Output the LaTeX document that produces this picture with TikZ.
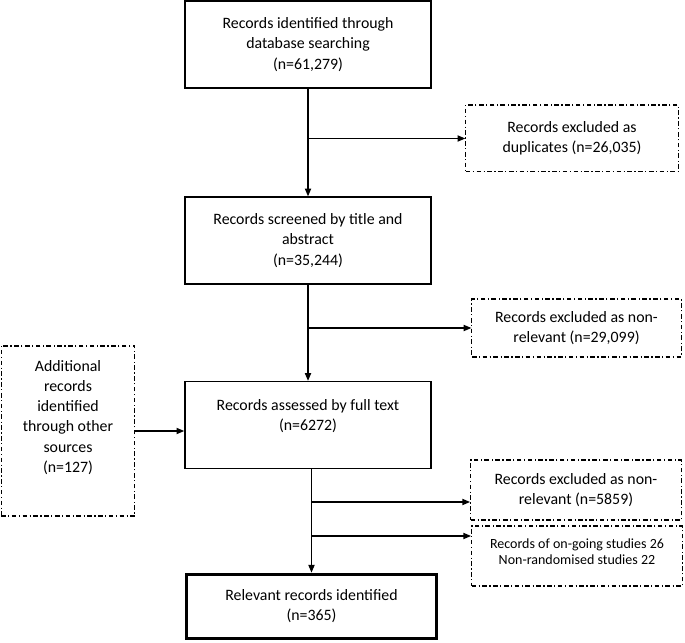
\documentclass[tikz,border=0pt]{standalone}
\usepackage{fontspec}
\setmainfont{Carlito}
\usetikzlibrary{arrows.meta,positioning,calc}

\begin{document}
\begin{tikzpicture}[
  x=0.65pt,y=-0.65pt,
  font=\fontsize{10.3}{13.1}\selectfont,
  >={Triangle[length=5pt,width=4pt]},
  stage/.style={draw,line width=0.9pt,align=center,minimum width=160pt,minimum height=56.5pt,inner sep=2pt},
  final/.style={stage,line width=2pt,minimum width=163pt,minimum height=42pt},
  side/.style={draw,line width=0.7pt,dash pattern=on 3pt off 1.6pt on 0.8pt off 1.6pt,align=center,minimum width=137pt,minimum height=39pt,inner sep=2pt},
  flow/.style={->,line width=0.8pt}
]
\useasboundingbox (0,0) rectangle (685,643);

% main path
\node[stage] (ident) at (308,44.5) {Records identified through\\database searching\\(n=61,279)};
\node[stage] (screen) at (308,240.5) {Records screened by title and\\abstract\\(n=35,244)};
\node[stage] (full) at (308,425) {Records assessed by full text\\(n=6272)\\\mbox{}};
\node[final] (relev) at (311.5,606.5) {Relevant records identified\\(n=365)};

% exclusions and other sources
\node[side,minimum width=138pt,minimum height=43.5pt] (dupl) at (572,138.5) {Records excluded as\\duplicates (n=26,035)};
\node[side,minimum width=136pt,minimum height=37.7pt] (nonrel) at (576.5,328) {Records excluded as non-\\relevant (n=29,099)};
\node[side,minimum width=87pt,minimum height=110.5pt] (other) at (68,431) {Additional\\records\\identified\\through other\\sources\\(n=127)\\[6pt]\mbox{}};
\node[side] (nonrelft) at (576,490) {Records excluded as non-\\relevant (n=5859)};
\node[side,font=\fontsize{9.1}{10.6}\selectfont] (ongoing) at (577,556) {Records of on-going studies 26\\Non-randomised studies 22\\[-5pt]\mbox{}};

\coordinate (inft) at ([yshift=-7.8pt]nonrelft.west);
\coordinate (inog) at ([yshift=13pt]ongoing.west);

\draw[flow] (ident) -- (screen);
\draw[flow] (ident.south |- dupl.west) -- (dupl.west);
\draw[flow] (screen) -- (full);
\draw[flow] (screen.south |- nonrel.west) -- (nonrel.west);
\draw[flow] (other.east) -- (other.east -| full.west);
\draw[flow] (relev.north |- full.south) -- (relev.north);
\draw[flow] (relev.north |- inft) -- (inft);
\draw[flow] (relev.north |- inog) -- (inog);
\end{tikzpicture}
\end{document}
